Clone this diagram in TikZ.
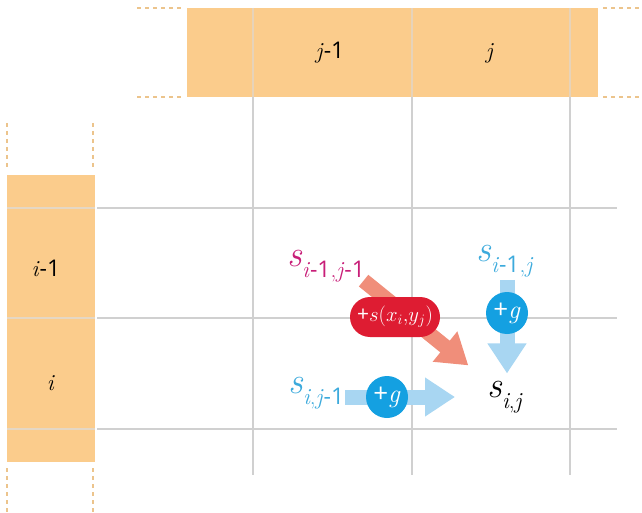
\documentclass[tikz,border=0pt]{standalone}
\usepackage{fontspec}
\setsansfont{Open Sans}
\usepackage{tikz}
\usetikzlibrary{arrows.meta, positioning, calc, backgrounds}
\usepackage{xcolor}
\definecolor{barorange}{RGB}{251,204,140}
\definecolor{bartan}{RGB}{236,196,140}
\definecolor{gridgray}{RGB}{208,208,208}
\definecolor{boxred}{RGB}{222,28,50}
\definecolor{dotblue}{RGB}{20,160,225}
\definecolor{paleblue}{RGB}{168,214,242}
\definecolor{salmon}{RGB}{240,142,122}
\definecolor{magentatext}{RGB}{200,30,120}
\definecolor{bluetext}{RGB}{60,170,220}
\tikzstyle{fatarrow} = [-{Triangle[length=30pt, width=37pt]}, line width=15pt]

% score s with its subscript
\newcommand{\sval}[1]{{\fontsize{37}{37}\selectfont\itshape s}\raisebox{-11pt}{\fontsize{23}{23}\selectfont #1}}
\newcommand{\mone}{\textsf{-1}}

\begin{document}
\begin{tikzpicture}[
    x=1pt, y=-1pt,
    hdr/.style={font=\fontsize{23}{25}\selectfont, inner sep=0pt},
    score/.style={anchor=base west, inner sep=0pt},
    gapdot/.style={circle, fill=dotblue, minimum size=42pt, inner sep=0pt, text=white,
                   font=\fontsize{26}{28}\selectfont},
    matchbox/.style={rectangle, rounded corners=20pt, fill=boxred, minimum width=90pt,
                     minimum height=40pt, inner xsep=5pt, inner ysep=0pt, text=white,
                     font=\fontsize{21}{24}\selectfont},
    dashrule/.style={draw=bartan, dashed, dash pattern=on 4pt off 4pt, line width=1.8pt}
]
    \useasboundingbox (0,0) rectangle (642,513);

    % Row and column labels
    \node[hdr] (colA) at (330,53) {\textit{j}\mone};
    \node[hdr] (colB) at (490,53) {\textit{j}};
    \node[hdr] (rowA) at (46,268) {\textit{i}\mone};
    \node[hdr] (rowB) at (51,383) {\textit{i}};

    % Scores
    \node[score, text=magentatext] (sdiag) at (287,266) {\sval{\textit{i}\mone,\textit{j}\mone}};
    \node[score, text=bluetext] (sup) at (476,261) {\sval{\textit{i}\mone,\textit{j}}};
    \node[score, text=bluetext] (sleft) at (288,393) {\sval{\textit{i},\textit{j}\mone}};
    \node[score] (sij) at (487,397) {\sval{\textit{i},\textit{j}}};

    % Costs
    \node[matchbox] (match) at (395,317) {\textsf{+}$s(x_i{,}y_j)$};
    \node[gapdot] (gapup) at (507,313) {\textsf{+}\textit{g}};
    \node[gapdot] (gapleft) at (387,397) {\textsf{+}\textit{g}};

    \begin{scope}[on background layer]
    % Header bars
    \fill[barorange] (187,8) rectangle (598,97);
    \fill[barorange] (7,175) rectangle (95,462);
    \foreach \gx in {253,412,570}
        \draw[bartan!80!gray!60, line width=1.5pt] (\gx,8) -- (\gx,97);
    \foreach \gy in {208,318,429}
        \draw[bartan!70!gray!50, line width=2.5pt] (7,\gy) -- (95,\gy);

    % Dashed continuations
    \draw[dashrule] (137,8) -- (183,8);
    \draw[dashrule] (137,97) -- (183,97);
    \draw[dashrule] (603,8) -- (642,8);
    \draw[dashrule] (603,97) -- (642,97);
    \draw[dashrule] (7,123) -- (7,170);
    \draw[dashrule] (93,123) -- (93,170);
    \draw[dashrule] (7,468) -- (7,513);
    \draw[dashrule] (93,468) -- (93,513);

    % Grid
    \foreach \gx in {253,412,570}
        \draw[gridgray, line width=1.2pt] (\gx,97) -- (\gx,475);
    \foreach \gy in {208,318,429}
        \draw[gridgray, line width=1.2pt] (97,\gy) -- (617,\gy);

    % Arrows
    \draw[fatarrow, salmon, shorten <=-2pt, shorten >=24pt] (sdiag.south east) -- (sij.north west);
    \draw[fatarrow, paleblue, shorten <=1pt, shorten >=32pt] (sleft.east |- gapleft) -- (sij.west |- gapleft);
    \draw[fatarrow, paleblue, shorten <=3pt, shorten >=7pt] (sup.south -| gapup) -- (sij.north -| gapup);
    \end{scope}

\end{tikzpicture}
\end{document}
